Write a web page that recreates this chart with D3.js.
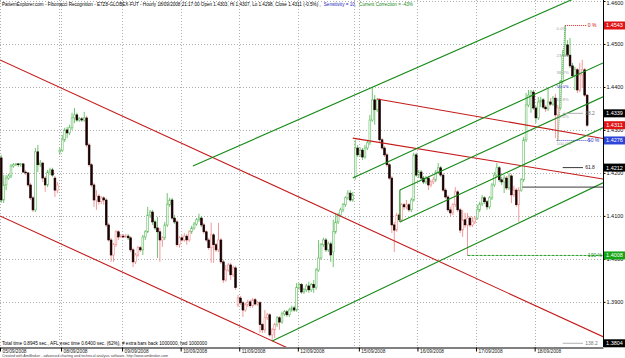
<!DOCTYPE html>
<html>
<head>
<meta charset="utf-8">
<script src="https://cdn.jsdelivr.net/npm/d3@7/dist/d3.min.js"></script>
<style>
  body { margin:0; background:#fff; }
  svg text { font-family: "Liberation Sans", Arial, sans-serif; }
</style>
</head>
<body>
<div class="chart-container"></div>
<script>
//Data - hourly bars, 05/09/2008 .. 18/09/2008 (bar index = position on the time axis)
const opens = [1.4235,1.4137,1.4172,1.4188,1.4193,1.4216,1.4219,1.4221,1.4219,1.4221,1.4202,1.4200,1.4172,1.4142,1.4114,1.4249,1.4219,1.4223,1.4188,1.4172,
1.4202,1.4207,1.4188,1.4160,1.4249,1.4253,1.4277,1.4300,1.4293,1.4305,1.4328,1.4335,1.4323,1.4326,1.4323,1.4328,1.4265,1.4219,1.4172,1.4137,
1.4146,1.4133,1.4142,1.4137,1.4079,1.4044,1.4009,1.4033,1.4063,1.4051,1.4053,1.4051,1.4053,1.4049,1.4021,1.3993,1.4009,1.4026,1.4021,1.4051,
1.4063,1.4102,1.4109,1.4086,1.4072,1.4063,1.4044,1.4049,1.4079,1.4126,1.4137,1.4095,1.4086,1.4033,1.4049,1.4044,1.4053,1.4044,1.4063,1.4072,
1.4081,1.4091,1.4095,1.4079,1.4063,1.4044,1.4026,1.4056,1.4033,1.4021,1.4044,1.3993,1.3951,1.3974,1.3986,1.3963,1.3979,1.3893,1.3909,1.3898,
1.3881,1.3893,1.3900,1.3891,1.3905,1.3895,1.3898,1.3847,1.3835,1.3863,1.3870,1.3823,1.3835,1.3847,1.3863,1.3853,1.3872,1.3877,1.3870,1.3881,
1.3886,1.3881,1.3933,1.3940,1.3923,1.3928,1.3937,1.3928,1.3940,1.3933,1.3974,1.4002,1.4033,1.4044,1.4021,1.4035,1.4016,1.4063,1.4086,1.4102,
1.4114,1.4126,1.4142,1.4153,1.4137,1.4191,1.4258,1.4242,1.4253,1.4237,1.4258,1.4270,1.4323,1.4370,1.4347,1.4370,1.4277,1.4258,1.4242,1.4219,
1.4188,1.4079,1.4067,1.4102,1.4091,1.4126,1.4121,1.4126,1.4114,1.4137,1.4242,1.4195,1.4202,1.4188,1.4179,1.4188,1.4172,1.4179,1.4184,1.4202,
1.4212,1.4195,1.4160,1.4144,1.4114,1.4107,1.4126,1.4156,1.4114,1.4067,1.4091,1.4079,1.4095,1.4079,1.4086,1.4095,1.4114,1.4128,1.4142,1.4133,
1.4121,1.4142,1.4172,1.4195,1.4212,1.4184,1.4179,1.4188,1.4165,1.4193,1.4149,1.4160,1.4126,1.4160,1.4184,1.4277,1.4358,1.4381,1.4388,1.4351,
1.4328,1.4365,1.4370,1.4353,1.4349,1.4365,1.4360,1.4374,1.4335,1.4351,1.4412,1.4474,1.4498,1.4474,1.4449,1.4426,1.4440,1.4393,1.4428,1.4440,
1.4381];
const highs = [1.4242,1.4195,1.4195,1.4198,1.4221,1.4223,1.4223,1.4223,1.4223,1.4223,1.4207,1.4202,1.4177,1.4146,1.4258,1.4265,1.4230,1.4226,1.4193,1.4207,
1.4212,1.4212,1.4193,1.4179,1.4258,1.4288,1.4305,1.4307,1.4312,1.4340,1.4351,1.4340,1.4330,1.4330,1.4342,1.4333,1.4270,1.4223,1.4177,1.4160,
1.4151,1.4146,1.4146,1.4142,1.4084,1.4049,1.4037,1.4067,1.4067,1.4058,1.4058,1.4058,1.4058,1.4053,1.4026,1.4014,1.4030,1.4030,1.4056,1.4067,
1.4121,1.4114,1.4114,1.4091,1.4098,1.4072,1.4053,1.4086,1.4153,1.4142,1.4142,1.4102,1.4091,1.4053,1.4056,1.4060,1.4058,1.4067,1.4077,1.4086,
1.4095,1.4105,1.4100,1.4084,1.4067,1.4049,1.4084,1.4060,1.4037,1.4084,1.4049,1.3998,1.3986,1.3991,1.3991,1.3984,1.3984,1.3916,1.3914,1.3902,
1.3898,1.3905,1.3905,1.3909,1.3909,1.3902,1.3902,1.3851,1.3881,1.3874,1.3874,1.3840,1.3851,1.3867,1.3867,1.3877,1.3881,1.3881,1.3886,1.3891,
1.3891,1.3944,1.3944,1.3944,1.3933,1.3942,1.3947,1.3944,1.3951,1.3979,1.4044,1.4037,1.4049,1.4049,1.4040,1.4040,1.4091,1.4107,1.4107,1.4119,
1.4130,1.4146,1.4160,1.4160,1.4156,1.4277,1.4265,1.4260,1.4258,1.4265,1.4277,1.4335,1.4400,1.4381,1.4374,1.4374,1.4281,1.4263,1.4247,1.4223,
1.4193,1.4086,1.4107,1.4107,1.4130,1.4130,1.4137,1.4130,1.4142,1.4247,1.4247,1.4207,1.4207,1.4193,1.4193,1.4193,1.4184,1.4191,1.4207,1.4223,
1.4216,1.4200,1.4165,1.4149,1.4121,1.4130,1.4167,1.4160,1.4119,1.4114,1.4107,1.4107,1.4100,1.4098,1.4100,1.4126,1.4133,1.4149,1.4146,1.4137,
1.4146,1.4177,1.4202,1.4223,1.4216,1.4191,1.4195,1.4193,1.4200,1.4198,1.4170,1.4165,1.4167,1.4188,1.4284,1.4386,1.4393,1.4393,1.4393,1.4356,
1.4377,1.4377,1.4374,1.4358,1.4400,1.4374,1.4379,1.4384,1.4358,1.4416,1.4486,1.4543,1.4509,1.4514,1.4456,1.4447,1.4444,1.4456,1.4463,1.4444,
1.4384];
const lows = [1.4130,1.4130,1.4160,1.4184,1.4188,1.4212,1.4216,1.4214,1.4214,1.4200,1.4195,1.4167,1.4137,1.4109,1.4109,1.4202,1.4214,1.4179,1.4156,1.4167,
1.4195,1.4191,1.4144,1.4153,1.4242,1.4249,1.4272,1.4281,1.4288,1.4300,1.4316,1.4319,1.4319,1.4319,1.4319,1.4260,1.4214,1.4167,1.4121,1.4114,
1.4126,1.4128,1.4126,1.4074,1.4040,1.3993,1.3993,1.4028,1.4044,1.4049,1.4049,1.4049,1.4044,1.4016,1.3981,1.3988,1.4005,1.4016,1.4009,1.4044,
1.4060,1.4095,1.4079,1.4067,1.4002,1.3993,1.4028,1.4044,1.4074,1.4121,1.4091,1.4081,1.4028,1.4026,1.4040,1.4040,1.4033,1.4040,1.4058,1.4067,
1.4077,1.4086,1.4074,1.4058,1.4040,1.4021,1.3991,1.3991,1.4016,1.4016,1.3988,1.3944,1.3947,1.3970,1.3951,1.3958,1.3928,1.3888,1.3893,1.3865,
1.3877,1.3888,1.3886,1.3886,1.3891,1.3891,1.3828,1.3828,1.3828,1.3858,1.3819,1.3812,1.3816,1.3842,1.3835,1.3849,1.3867,1.3865,1.3865,1.3877,
1.3877,1.3877,1.3928,1.3919,1.3919,1.3923,1.3921,1.3923,1.3921,1.3928,1.3970,1.3998,1.4028,1.4016,1.4016,1.3993,1.3981,1.4058,1.4081,1.4098,
1.4109,1.4121,1.4137,1.4133,1.4133,1.4184,1.4237,1.4237,1.4230,1.4233,1.4253,1.4265,1.4319,1.4312,1.4342,1.4272,1.4253,1.4237,1.4214,1.4184,
1.4060,1.4016,1.4063,1.4086,1.4086,1.4114,1.4116,1.4109,1.4109,1.4133,1.4191,1.4188,1.4184,1.4174,1.4174,1.4160,1.4167,1.4174,1.4179,1.4198,
1.4191,1.4156,1.4140,1.4109,1.4098,1.4102,1.4121,1.4109,1.4060,1.4051,1.4072,1.4008,1.4074,1.4074,1.4081,1.4091,1.4109,1.4123,1.4128,1.4114,
1.4116,1.4137,1.4167,1.4191,1.4179,1.4172,1.4153,1.4160,1.4160,1.4130,1.4144,1.4121,1.4086,1.4156,1.4179,1.4272,1.4353,1.4340,1.4347,1.4316,
1.4323,1.4353,1.4349,1.4342,1.4344,1.4356,1.4356,1.4281,1.4275,1.4347,1.4407,1.4470,1.4470,1.4444,1.4421,1.4393,1.4386,1.4388,1.4398,1.4377,
1.4307];
const closes = [1.4137,1.4172,1.4188,1.4193,1.4216,1.4219,1.4221,1.4219,1.4221,1.4202,1.4200,1.4172,1.4142,1.4114,1.4249,1.4219,1.4223,1.4188,1.4172,1.4202,
1.4207,1.4195,1.4160,1.4172,1.4253,1.4277,1.4300,1.4293,1.4305,1.4328,1.4335,1.4323,1.4326,1.4323,1.4328,1.4265,1.4219,1.4172,1.4137,1.4146,
1.4133,1.4142,1.4137,1.4079,1.4044,1.4009,1.4033,1.4063,1.4051,1.4053,1.4051,1.4053,1.4049,1.4021,1.3993,1.4009,1.4026,1.4021,1.4051,1.4063,
1.4102,1.4109,1.4086,1.4072,1.4063,1.4044,1.4049,1.4079,1.4126,1.4137,1.4095,1.4086,1.4033,1.4049,1.4044,1.4053,1.4044,1.4063,1.4072,1.4081,
1.4091,1.4095,1.4079,1.4063,1.4044,1.4026,1.4056,1.4033,1.4021,1.4044,1.3993,1.3951,1.3974,1.3986,1.3963,1.3979,1.3933,1.3909,1.3898,1.3881,
1.3893,1.3900,1.3891,1.3905,1.3895,1.3898,1.3847,1.3835,1.3863,1.3870,1.3823,1.3835,1.3847,1.3863,1.3853,1.3872,1.3877,1.3870,1.3881,1.3886,
1.3881,1.3933,1.3940,1.3923,1.3928,1.3937,1.3928,1.3940,1.3933,1.3974,1.4002,1.4033,1.4044,1.4021,1.4035,1.4009,1.4063,1.4086,1.4102,1.4114,
1.4126,1.4142,1.4153,1.4137,1.4149,1.4258,1.4242,1.4253,1.4237,1.4258,1.4270,1.4323,1.4370,1.4347,1.4370,1.4277,1.4258,1.4242,1.4219,1.4188,
1.4079,1.4067,1.4102,1.4091,1.4126,1.4121,1.4126,1.4114,1.4137,1.4242,1.4195,1.4202,1.4188,1.4179,1.4188,1.4172,1.4179,1.4184,1.4202,1.4212,
1.4195,1.4160,1.4144,1.4114,1.4107,1.4126,1.4156,1.4114,1.4067,1.4091,1.4079,1.4095,1.4079,1.4086,1.4095,1.4114,1.4128,1.4142,1.4133,1.4121,
1.4142,1.4172,1.4195,1.4212,1.4184,1.4179,1.4188,1.4165,1.4193,1.4149,1.4160,1.4126,1.4160,1.4184,1.4277,1.4358,1.4381,1.4388,1.4351,1.4328,
1.4365,1.4370,1.4353,1.4349,1.4365,1.4360,1.4374,1.4335,1.4351,1.4412,1.4474,1.4498,1.4474,1.4449,1.4426,1.4440,1.4393,1.4428,1.4440,1.4381,
1.4311];

//Axis data
const dateLabels = ['05/09/2008','08/09/2008','09/09/2008','10/09/2008','11/09/2008','12/09/2008','15/09/2008','16/09/2008','17/09/2008','18/09/2008'];
const dateStartBars = [0, 25, 50, 74, 98, 122, 147, 171, 195, 219];
const sundayBars = [24, 145];
const priceTicks = [1.39, 1.40, 1.41, 1.42, 1.43, 1.44, 1.45, 1.46];

//Trend channels, each line = two [bar, price] anchors
const redLines = [
    [[-0.5, 1.4463], [246.5, 1.3819]],
    [[-0.5, 1.4100], [246.5, 1.3456]],
    [[144, 1.4281], [246.5, 1.4186]],
    [[154, 1.4372], [246.5, 1.4280]]
];
const greenLines = [
    [[78.5, 1.4216], [246.5, 1.4635]],
    [[111, 1.3809], [246.5, 1.4177]],
    [[144, 1.4188], [246.5, 1.4456]],
    [[163.3, 1.4160], [246.5, 1.4377]],
    [[163.3, 1.4086], [246.5, 1.4305]],
    [[163.3, 1.4160], [163.3, 1.4086]]
];
const pivotLine = [[213.5, 1.4167], [246.5, 1.4167]];

//Fibonacci projection (A = 1.4543 high, B = 1.4008 low)
const fibHigh = 1.4543, fibHighBar = 231;
const fibLow = 1.4008, fibLowBar = 191;
const fibRatios = [0, 0.382, 0.5, 0.618, 1, 1.382];
const fibNames = ['0 %', '38.2', '50 %', '61.8', '100 %', '138.2'];
//retracement of the last up leg
const legLow = 1.4275, legLowBar = 228;
const legRatios = [0, 0.236, 0.382, 0.5, 0.618, 0.764, 1];
const legNames = ['0.0%', '23.6%', '38.2%', '50.0%', '61.8%', '76.4%', '100.0%'];

const lastClose = 1.4311;

const headerTexts = ['PatternExplorer.com - Fibonacci Recognition - E7Z8-GLOBEX-FUT - Hourly 18/09/2008 21:17:00 Open 1.4303, Hi 1.4307, Lo 1.4298, Close 1.4311 (-0.5%) ,',
    'Sensitivity = 10,', 'Current Correction = -43%'];
const headerColors = ['#000', '#2424b8', '#168a16'];

function setupCanvas(){
    const svg_width = 625, svg_height = 358;
    const plot_width = 603, plot_height = 347;

    const svg = d3.select('.chart-container').append('svg')
        .attr('width', svg_width).attr('height', svg_height);

    svg.append('defs').append('clipPath').attr('id','plot-clip')
        .append('rect').attr('width', plot_width).attr('height', plot_height);

    //scale: bars on x, price on y
    const xScale = d3.scaleLinear().domain([-0.5, 246.5]).range([0, plot_width]);
    const yScale = d3.scaleLinear().domain([1.3795, 1.46023]).range([plot_height, 0]);
    const crisp = v => Math.round(v) + 0.5;

    //Dotted grid
    const grid = svg.append('g').attr('class','grid')
        .style('stroke','#9c9c9c').style('stroke-width',0.8).style('stroke-dasharray','1,2');
    grid.selectAll('.h').data(priceTicks).enter().append('line')
        .attr('x1',0).attr('x2',plot_width)
        .attr('y1',d=>crisp(yScale(d))).attr('y2',d=>crisp(yScale(d)));
    grid.selectAll('.v').data(dateStartBars.concat(sundayBars)).enter().append('line')
        .attr('x1',d=>crisp(xScale(d-0.5))).attr('x2',d=>crisp(xScale(d-0.5)))
        .attr('y1',0).attr('y2',plot_height);

    const plot = svg.append('g').attr('clip-path','url(#plot-clip)');
    const lineGen = d3.line().x(d=>xScale(d[0])).y(d=>yScale(d[1]));

    //Candles, outline colour from a 10 bar average
    const bars = closes.map((c,i)=>({i:i, o:opens[i], h:highs[i], l:lows[i], c:c}));
    bars.forEach((d,i)=>{
        const avg = d3.mean(closes.slice(Math.max(0,i-9), i+1));
        d.col = d.c >= avg ? '#62bb62' : '#ee8f8f';
    });
    const bodyW = 1.8;
    const candles = plot.append('g').attr('class','candles');
    candles.selectAll('.wick').data(bars).enter().append('line')
        .attr('x1',d=>xScale(d.i)).attr('x2',d=>xScale(d.i))
        .attr('y1',d=>yScale(d.h)).attr('y2',d=>yScale(d.l))
        .style('stroke',d=>d.col).style('stroke-width',0.9);
    candles.selectAll('.body').data(bars).enter().append('rect')
        .attr('x',d=>xScale(d.i)-bodyW/2).attr('width',bodyW)
        .attr('y',d=>yScale(Math.max(d.o,d.c)))
        .attr('height',d=>Math.max(0.8, Math.abs(yScale(d.o)-yScale(d.c))))
        .style('fill',d=>d.c >= d.o ? '#fff' : '#1a0000')
        .style('stroke',d=>d.c >= d.o ? d.col : '#1a0000').style('stroke-width',0.6);

    //Channels
    plot.selectAll('.red-line').data(redLines).enter().append('path')
        .attr('d',lineGen).style('fill','none').style('stroke','#c41a1a').style('stroke-width',1.1);
    plot.selectAll('.green-line').data(greenLines).enter().append('path')
        .attr('d',lineGen).style('fill','none').style('stroke','#178a17').style('stroke-width',1.1);
    plot.append('path').attr('d',lineGen(pivotLine))
        .style('fill','none').style('stroke','#222').style('stroke-width',0.9);

    //Fibonacci levels of the whole move
    const fibPrice = r => fibHigh - r*(fibHigh - fibLow);
    const levelStyle = {
        '0 %':  {start:fibHighBar, end:240, color:'#cc1010', dash:'1,1'},
        '38.2': {start:230, end:238.3, color:'#a8a8a8', dash:null},
        '50 %': {start:legLowBar-0.5, end:241.5, color:'#3030c8', dash:'1,1'},
        '61.8': {start:230, end:238.3, color:'#222', dash:null},
        '100 %':{start:fibLowBar, end:246.5, color:'#109010', dash:'3,1'},
        '138.2':{start:230, end:238.3, color:'#a8a8a8', dash:null}
    };
    const fibData = fibRatios.map((r,k)=>({name:fibNames[k], price:fibPrice(r)}));
    plot.selectAll('.fib-line').data(fibData).enter().append('line')
        .attr('x1',d=>xScale(levelStyle[d.name].start)).attr('x2',d=>xScale(levelStyle[d.name].end))
        .attr('y1',d=>yScale(d.price)).attr('y2',d=>yScale(d.price))
        .style('stroke',d=>levelStyle[d.name].color).style('stroke-width',0.9)
        .style('stroke-dasharray',d=>levelStyle[d.name].dash);
    svg.selectAll('.fib-label').data(fibData).enter().append('text')
        .attr('x',d=>d.name.indexOf('%')>0 ? xScale(240.3) : xScale(239.2))
        .attr('y',d=>yScale(d.price)+1.8)
        .text(d=>d.name)
        .style('font-size','5px')
        .style('fill',d=>levelStyle[d.name].color==='#a8a8a8' ? '#777' : levelStyle[d.name].color);

    //Retracement of the last leg
    const legData = legRatios.map((r,k)=>({name:legNames[k], price:fibHigh - r*(fibHigh-legLow)}));
    plot.append('path').attr('d',lineGen([[legLowBar, legLow],[fibHighBar, fibHigh]]))
        .style('fill','none').style('stroke','#2a9a2a').style('stroke-width',0.8).style('stroke-dasharray','1,1');
    svg.selectAll('.leg-label').data(legData).enter().append('text')
        .attr('x',xScale(227.5)).attr('y',d=>yScale(d.price)+4.6)
        .text(d=>d.name)
        .style('font-size','4.3px')
        .style('fill',d=>d.name==='50.0%' ? '#3a3ad0' : '#a0a0a0');

    //Right axis
    const yAxis = d3.axisRight(yScale).tickValues(priceTicks)
        .tickFormat(d3.format('.4f')).tickSizeInner(2).tickSizeOuter(0);
    const yAxisDraw = svg.append('g').attr('class','y axis')
        .attr('transform',`translate(${plot_width + 0.5},0)`).call(yAxis);
    yAxisDraw.select('.domain').attr('d',`M0,0V${plot_height}`).style('stroke','#000');
    yAxisDraw.selectAll('text').attr('x',3).style('font-size','5.5px').style('fill','#111');
    //keep the top label inside the picture
    yAxisDraw.selectAll('.tick').filter(d=>d===1.46).select('text').attr('y',2.2);

    //Price flags on the axis
    const flagColor = p => p===lastClose || p===fibHigh ? '#e01414'
        : Math.abs(p-legLow)<0.0001 ? '#2d44d8'
        : Math.abs(p-fibLow)<0.0001 ? '#14a514' : '#000';
    const flags = [fibHigh, fibPrice(0.382), lastClose, fibPrice(0.5), fibPrice(0.618), fibLow, fibPrice(1.382)];
    const flagG = svg.append('g').attr('class','flags')
        .selectAll('g').data(flags).enter().append('g')
        .attr('transform',d=>`translate(${plot_width + 1},${yScale(d)})`);
    flagG.append('rect').attr('x',0).attr('y',-4).attr('width',21).attr('height',8)
        .style('fill',d=>flagColor(d));
    flagG.append('text').attr('x',10.5).attr('y',2)
        .text(d=>d3.format('.4f')(d))
        .style('text-anchor','middle').style('font-size','5.5px').style('fill','#fff');

    //Bottom date axis
    const xAxis = d3.axisBottom(xScale).tickValues(dateStartBars.map(d=>d-0.5))
        .tickFormat((d,i)=>dateLabels[i]).tickSizeInner(4).tickSizeOuter(0);
    const xAxisDraw = svg.append('g').attr('class','x axis')
        .attr('transform',`translate(0,${plot_height + 0.5})`).call(xAxis);
    xAxisDraw.select('.domain').style('stroke','#000');
    xAxisDraw.selectAll('text').attr('x',2).attr('y',1.6)
        .style('text-anchor','start').style('font-size','4.8px').style('fill','#222');

    //Header, pieces placed one after the other
    let hx = 2;
    headerTexts.forEach((t,k)=>{
        const node = svg.append('text').attr('x',hx).attr('y',5.6).text(t)
            .style('font-size','4.6px').style('fill',headerColors[k]);
        hx += node.node().getComputedTextLength() + 3;
    });

    //Footer notes
    svg.append('text').attr('x',2).attr('y',345)
        .text('Total time 0.8945 sec., AFL exec time 0.6400 sec. (62%), # extra bars back 1000000, fwd 1000000')
        .attr('textLength',205).attr('lengthAdjust','spacingAndGlyphs')
        .style('font-size','5px').style('fill','#000');
    svg.append('text').attr('x',2).attr('y',357)
        .text('Created with AmiBroker - advanced charting and technical analysis software. http://www.amibroker.com')
        .attr('textLength',166).attr('lengthAdjust','spacingAndGlyphs')
        .style('font-size','4.2px').style('fill','#444');
}

//Main
setupCanvas();
</script>
</body>
</html>
